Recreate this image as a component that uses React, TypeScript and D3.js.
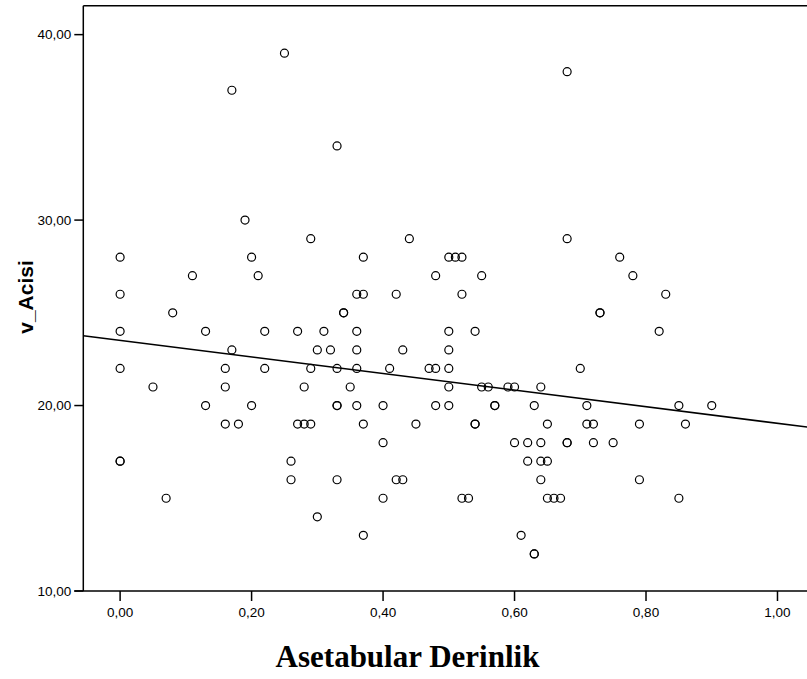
import React from 'react'
import { scaleLinear, line, mean, sum } from 'd3'

// Asetabular Derinlik (x) vs v_Acisi (y), one entry per case
const depth = [
  0.00, 0.00, 0.00, 0.00, 0.00, 0.00,
  0.05, 0.07, 0.08, 0.11, 0.13, 0.13,
  0.16, 0.16, 0.16, 0.17, 0.17, 0.18, 0.19, 0.20, 0.20, 0.21, 0.22, 0.22,
  0.25, 0.26, 0.26, 0.27, 0.27, 0.28, 0.28, 0.29, 0.29, 0.29, 0.30, 0.30,
  0.31, 0.32, 0.33, 0.33, 0.33, 0.33, 0.33, 0.34, 0.34, 0.35,
  0.36, 0.36, 0.36, 0.36, 0.36, 0.37, 0.37, 0.37, 0.37,
  0.40, 0.40, 0.40, 0.41, 0.42, 0.42, 0.43, 0.43, 0.44, 0.45, 0.47,
  0.48, 0.48, 0.48, 0.50, 0.50, 0.50, 0.50, 0.50, 0.50, 0.51,
  0.52, 0.52, 0.52, 0.53, 0.54, 0.54, 0.54, 0.55, 0.55, 0.56, 0.57, 0.57,
  0.59, 0.60, 0.60, 0.61, 0.62, 0.62, 0.63, 0.63, 0.63,
  0.64, 0.64, 0.64, 0.64, 0.65, 0.65, 0.65, 0.66, 0.67,
  0.68, 0.68, 0.68, 0.68, 0.70, 0.71, 0.71, 0.72, 0.72, 0.73, 0.73,
  0.75, 0.76, 0.78, 0.79, 0.79, 0.82, 0.83, 0.85, 0.85, 0.86, 0.90,
]
const angle = [
  28, 26, 24, 22, 17, 17,
  21, 15, 25, 27, 24, 20,
  22, 21, 19, 37, 23, 19, 30, 28, 20, 27, 24, 22,
  39, 17, 16, 24, 19, 21, 19, 29, 22, 19, 23, 14,
  24, 23, 34, 22, 20, 20, 16, 25, 25, 21,
  26, 24, 23, 22, 20, 28, 26, 19, 13,
  20, 18, 15, 22, 26, 16, 23, 16, 29, 19, 22,
  27, 22, 20, 28, 24, 23, 22, 21, 20, 28,
  28, 26, 15, 15, 24, 19, 19, 27, 21, 21, 20, 20,
  21, 21, 18, 13, 18, 17, 20, 12, 12,
  21, 18, 17, 16, 19, 17, 15, 15, 15,
  38, 29, 18, 18, 22, 20, 19, 19, 18, 25, 25,
  18, 28, 27, 19, 16, 24, 26, 20, 15, 19, 20,
]

const xTicks = [0, 0.2, 0.4, 0.6, 0.8, 1.0]
const yTicks = [10, 20, 30, 40]

const W = 807
const H = 679
const left = 83.3
const top = 5.7
const bottom = 591

const fmt = (v: number) => v.toFixed(2).replace('.', ',')

export default function App() {
  const x = scaleLinear().domain([-0.056, 1.056]).range([left, 814.3])
  const y = scaleLinear().domain([10, 41.56]).range([bottom, top])

  // least squares fit line
  const mx = mean(depth) as number
  const my = mean(angle) as number
  const sxy = sum(depth, (d, i) => (d - mx) * (angle[i] - my))
  const sxx = sum(depth, d => (d - mx) * (d - mx))
  const slope = sxy / sxx
  const icpt = my - slope * mx
  const fitX = x.domain()
  const fitPath = line<number>()
    .x(d => x(d))
    .y(d => y(icpt + slope * d))(fitX)

  const tickFont = { fontFamily: 'Liberation Sans, Arial, sans-serif', fontSize: 13.5, fill: '#000' }

  return (
    <svg width={W} height={H} style={{ position: 'absolute', left: 0, top: 0, background: '#fff' }}>
      <defs>
        <clipPath id="plot">
          <rect x={left} y={top} width={W - left} height={bottom - top} />
        </clipPath>
      </defs>

      <g clipPath="url(#plot)">
        {depth.map((d, i) => (
          <circle key={i} cx={x(d)} cy={y(angle[i])} r={4} fill="none" stroke="#000" strokeWidth={1.2} />
        ))}
        <path d={fitPath ?? ''} fill="none" stroke="#000" strokeWidth={1.5} />
      </g>

      {/* frame */}
      <line x1={left} x2={W} y1={top} y2={top} stroke="#000" strokeWidth={1.5} />
      <line x1={left} x2={left} y1={top} y2={bottom} stroke="#000" strokeWidth={1.5} />
      <line x1={left - 9} x2={W} y1={bottom} y2={bottom} stroke="#000" strokeWidth={1.5} />

      {/* y axis */}
      {yTicks.map(t => (
        <g key={t}>
          <line x1={left - 9} x2={left} y1={y(t)} y2={y(t)} stroke="#000" strokeWidth={1.5} />
          <text x={left - 12} y={y(t)} dy="0.35em" textAnchor="end" style={tickFont}>{fmt(t)}</text>
        </g>
      ))}

      {/* x axis */}
      {xTicks.map(t => (
        <g key={t}>
          <line x1={x(t)} x2={x(t)} y1={bottom} y2={bottom + 10} stroke="#000" strokeWidth={1.5} />
          <text x={x(t)} y={616.5} textAnchor="middle" style={tickFont}>{fmt(t)}</text>
        </g>
      ))}

      <text
        transform="translate(33,297) rotate(-90)"
        textAnchor="middle"
        style={{ fontFamily: 'Liberation Sans, Arial, sans-serif', fontSize: 21, fontWeight: 'bold' }}
      >
        v_Acisi
      </text>
      <text
        x={407.5}
        y={667}
        textAnchor="middle"
        style={{ fontFamily: 'Liberation Serif, Times New Roman, serif', fontSize: 31, fontWeight: 'bold' }}
      >
        Asetabular Derinlik
      </text>
    </svg>
  )
}
